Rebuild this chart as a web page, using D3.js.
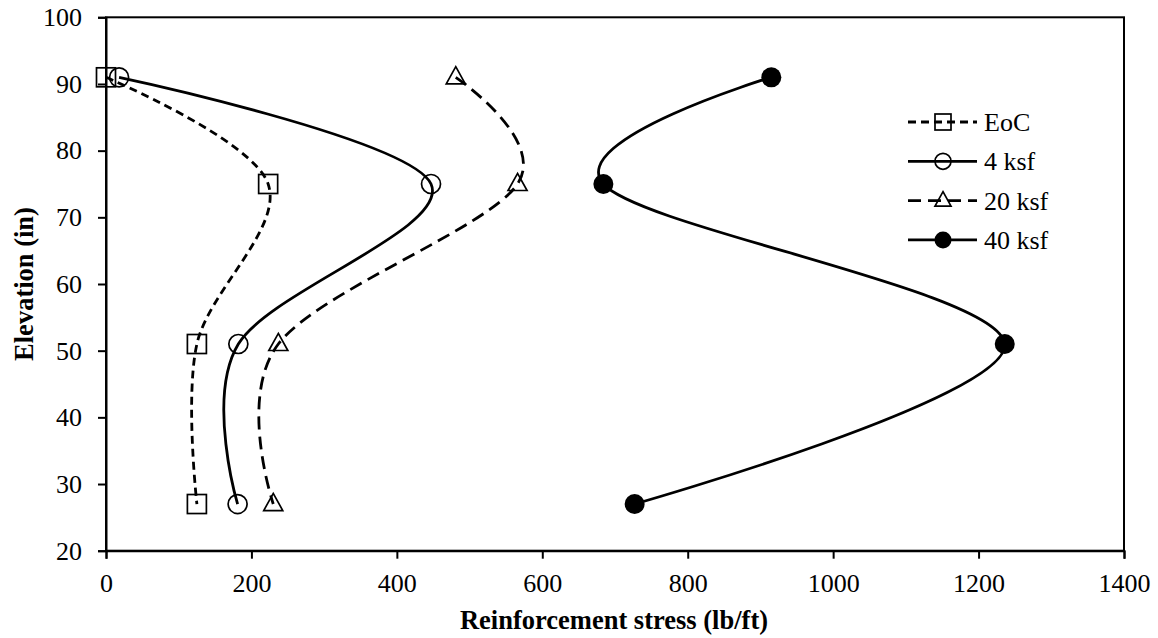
<!DOCTYPE html>
<html><head><meta charset="utf-8">
<script src="https://cdn.jsdelivr.net/npm/d3@7"></script>
<style>body{margin:0;background:#fff}svg{display:block}text{font-family:"Liberation Serif","Times New Roman",serif;fill:#000}</style>
</head><body><svg id="c" width="1158" height="638"></svg>
<script>
const seriesNames = ["EoC", "4 ksf", "20 ksf", "40 ksf"];
const elevations = [91, 75, 51, 27];
const eocStress = [0, 223, 125, 125];
const ksf4Stress = [18, 447, 182, 181];
const ksf20Stress = [481, 566, 237, 230];
const ksf40Stress = [915, 684, 1236, 727];
const xTicks = [0, 200, 400, 600, 800, 1000, 1200, 1400];
const yTicks = [20, 30, 40, 50, 60, 70, 80, 90, 100];

const svg = d3.select("#c");
const L = 106, R = 1124, T = 17.3, B = 550.7;
const x = d3.scaleLinear().domain([0, 1400]).range([L, R]);
const y = d3.scaleLinear().domain([20, 100]).range([B, T]);

const styles = [
  {dash: "8,5", marker: "square"},
  {dash: null, marker: "circle"},
  {dash: "13,7", marker: "triangle"},
  {dash: null, marker: "dot"}
];
const allStress = [eocStress, ksf4Stress, ksf20Stress, ksf40Stress];

// frame
svg.append("rect").attr("x", L).attr("y", T).attr("width", R - L).attr("height", B - T)
  .attr("fill", "none").attr("stroke", "#000").attr("stroke-width", 2);

// axes
const xa = svg.append("g").attr("transform", `translate(0,${B})`)
  .call(d3.axisBottom(x).tickValues(xTicks).tickSize(8).tickPadding(15).tickFormat(d3.format("d")));
const ya = svg.append("g").attr("transform", `translate(${L},0)`)
  .call(d3.axisLeft(y).tickValues(yTicks).tickSize(8).tickPadding(16).tickFormat(d3.format("d")));
[xa, ya].forEach(a => {
  a.attr("font-family", "Liberation Serif").attr("font-size", 26);
  a.select(".domain").attr("stroke", "#000").attr("stroke-width", 2);
  a.selectAll(".tick line").attr("stroke", "#000").attr("stroke-width", 2);
  a.selectAll("text").attr("font-family", "Liberation Serif").attr("font-size", 26).attr("fill", "#000");
});

svg.append("text").attr("x", 614).attr("y", 629).attr("text-anchor", "middle")
  .attr("font-size", 26.5).attr("font-weight", "bold").text("Reinforcement stress (lb/ft)");
svg.append("text").attr("transform", `translate(33,284) rotate(-90)`).attr("text-anchor", "middle")
  .attr("font-size", 26.5).attr("font-weight", "bold").text("Elevation (in)");

const line = d3.line().curve(d3.curveCardinal.tension(0));

function drawMarker(g, type, cx, cy, s) {
  if (type === "square") {
    g.append("rect").attr("x", cx - s / 2).attr("y", cy - s / 2).attr("width", s).attr("height", s)
      .attr("fill", "none").attr("stroke", "#000").attr("stroke-width", 1.7);
  } else if (type === "circle") {
    g.append("circle").attr("cx", cx).attr("cy", cy).attr("r", s / 2)
      .attr("fill", "none").attr("stroke", "#000").attr("stroke-width", 1.7);
  } else if (type === "triangle") {
    const h = s * 0.9;
    g.append("path").attr("d", `M${cx},${cy - h * 0.62}L${cx + s / 2},${cy + h * 0.38}L${cx - s / 2},${cy + h * 0.38}Z`)
      .attr("fill", "none").attr("stroke", "#000").attr("stroke-width", 1.7);
  } else {
    g.append("circle").attr("cx", cx).attr("cy", cy).attr("r", s / 2 + 0.5).attr("fill", "#000");
  }
}

allStress.forEach((vals, i) => {
  const pts = vals.map((v, j) => [x(v), y(elevations[j])]);
  const g = svg.append("g");
  g.append("path").attr("d", line(pts)).attr("fill", "none").attr("stroke", "#000")
    .attr("stroke-width", 2.8).attr("stroke-dasharray", styles[i].dash);
  pts.forEach(p => drawMarker(g, styles[i].marker, p[0], p[1], 19));
});

// legend
const lgX1 = 908, lgX2 = 977, lgMx = 943, lgTx = 984, lgY0 = 122, lgDy = 39.3;
seriesNames.forEach((name, i) => {
  const cy = lgY0 + i * lgDy;
  const g = svg.append("g");
  g.append("line").attr("x1", lgX1).attr("x2", lgX2).attr("y1", cy).attr("y2", cy)
    .attr("stroke", "#000").attr("stroke-width", 2.8).attr("stroke-dasharray", styles[i].dash);
  drawMarker(g, styles[i].marker, lgMx, cy, 16);
  g.append("text").attr("x", lgTx).attr("y", cy + 9).attr("font-size", 26).text(name);
});
</script></body></html>
